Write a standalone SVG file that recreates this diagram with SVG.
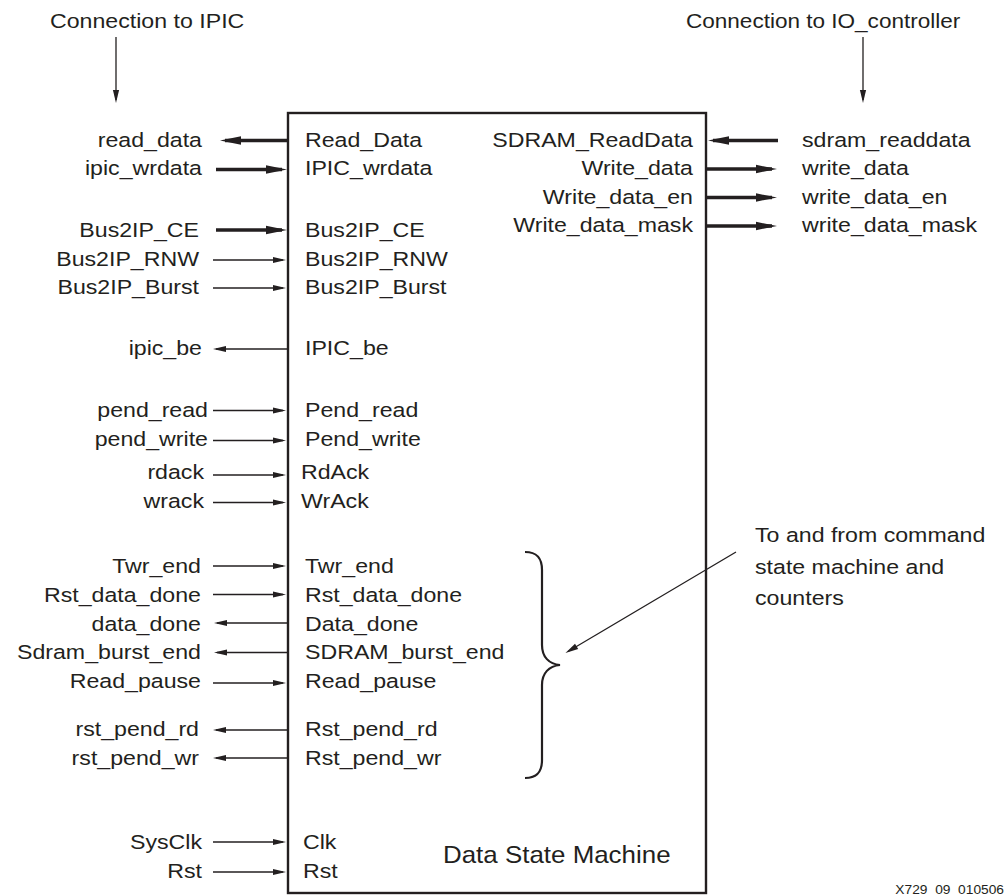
<svg xmlns="http://www.w3.org/2000/svg" width="1008" height="895" viewBox="0 0 1008 895">
  <style>
    text { font-family: "Liberation Sans", Arial, Helvetica, sans-serif; font-size: 20.5px; fill: #231f20; }
    .e { text-anchor: end; }
    .title { font-size: 24px; }
    .tag { font-size: 13px; }
    .thin { stroke: #231f20; stroke-width: 1.3; fill: none; marker-end: url(#ah); }
    .bus { stroke: #231f20; stroke-width: 3.4; fill: none; marker-end: url(#ahb); }
    .box { fill: #ffffff; stroke: #231f20; stroke-width: 2.4; }
    .brace { fill: none; stroke: #231f20; stroke-width: 2.2; }
  </style>
  <defs>
    <marker id="ah" markerUnits="userSpaceOnUse" markerWidth="14" markerHeight="8" refX="10" refY="3.5" orient="auto" overflow="visible">
      <path d="M0,0.4 L13,3.5 L0,6.6 Z" fill="#231f20"/>
    </marker>
    <marker id="ahb" markerUnits="userSpaceOnUse" markerWidth="22" markerHeight="10" refX="16" refY="4.5" orient="auto" overflow="visible">
      <path d="M0,0.3 L21,4.5 L0,8.7 Z" fill="#231f20"/>
    </marker>
  </defs>

  <rect width="1008" height="895" fill="#ffffff"/>

  <!-- Headers above each side -->
  <g id="headers">
    <text transform="translate(50,28) scale(1.13,1)">Connection to IPIC</text>
    <text transform="translate(686,28) scale(1.1,1)">Connection to IO_controller</text>
  </g>

  <!-- Main block with its port names -->
  <g id="data-state-machine">
    <rect class="box" x="288" y="113" width="418" height="780"/>
    <g transform="translate(305,0)">
      <text transform="translate(0,146.5) scale(1.13,1)">Read_Data</text>
      <text transform="translate(0,175) scale(1.13,1)">IPIC_wrdata</text>
      <text transform="translate(0,236.5) scale(1.13,1)">Bus2IP_CE</text>
      <text transform="translate(0,266) scale(1.13,1)">Bus2IP_RNW</text>
      <text transform="translate(0,294) scale(1.13,1)">Bus2IP_Burst</text>
      <text transform="translate(0,355) scale(1.13,1)">IPIC_be</text>
      <text transform="translate(0,417) scale(1.13,1)">Pend_read</text>
      <text transform="translate(0,446) scale(1.13,1)">Pend_write</text>
      <text transform="translate(-4,479) scale(1.13,1)">RdAck</text>
      <text transform="translate(-4,508) scale(1.13,1)">WrAck</text>
      <text transform="translate(0,573) scale(1.13,1)">Twr_end</text>
      <text transform="translate(0,602) scale(1.13,1)">Rst_data_done</text>
      <text transform="translate(0,630.5) scale(1.13,1)">Data_done</text>
      <text transform="translate(0,659) scale(1.13,1)">SDRAM_burst_end</text>
      <text transform="translate(0,688) scale(1.13,1)">Read_pause</text>
      <text transform="translate(0,736) scale(1.13,1)">Rst_pend_rd</text>
      <text transform="translate(0,765) scale(1.13,1)">Rst_pend_wr</text>
      <text transform="translate(-2,849) scale(1.13,1)">Clk</text>
      <text transform="translate(-2,878) scale(1.13,1)">Rst</text>
    </g>
    <g transform="translate(693,0)">
      <text class="e" transform="translate(0,146.5) scale(1.13,1)">SDRAM_ReadData</text>
      <text class="e" transform="translate(0,175) scale(1.13,1)">Write_data</text>
      <text class="e" transform="translate(0,203.5) scale(1.13,1)">Write_data_en</text>
      <text class="e" transform="translate(0,232) scale(1.13,1)">Write_data_mask</text>
    </g>
    <text class="title" transform="translate(443,862.5) scale(1.08,1)">Data State Machine</text>
  </g>

  <!-- Signals on the IPIC side -->
  <g id="ipic-signals">
    <text class="e" transform="translate(202,146.5) scale(1.13,1)">read_data</text>
    <text class="e" transform="translate(202,175) scale(1.13,1)">ipic_wrdata</text>
    <text class="e" transform="translate(199,236.5) scale(1.13,1)">Bus2IP_CE</text>
    <text class="e" transform="translate(199,266) scale(1.13,1)">Bus2IP_RNW</text>
    <text class="e" transform="translate(199,294) scale(1.13,1)">Bus2IP_Burst</text>
    <text class="e" transform="translate(202,355) scale(1.13,1)">ipic_be</text>
    <text class="e" transform="translate(208,417) scale(1.13,1)">pend_read</text>
    <text class="e" transform="translate(208,446) scale(1.13,1)">pend_write</text>
    <text class="e" transform="translate(204,479) scale(1.13,1)">rdack</text>
    <text class="e" transform="translate(204,508) scale(1.13,1)">wrack</text>
    <text class="e" transform="translate(201,573) scale(1.13,1)">Twr_end</text>
    <text class="e" transform="translate(201,602) scale(1.13,1)">Rst_data_done</text>
    <text class="e" transform="translate(201,630.5) scale(1.13,1)">data_done</text>
    <text class="e" transform="translate(201,659) scale(1.13,1)">Sdram_burst_end</text>
    <text class="e" transform="translate(201,688) scale(1.13,1)">Read_pause</text>
    <text class="e" transform="translate(199,736) scale(1.13,1)">rst_pend_rd</text>
    <text class="e" transform="translate(199,765) scale(1.13,1)">rst_pend_wr</text>
    <text class="e" transform="translate(202,849) scale(1.13,1)">SysClk</text>
    <text class="e" transform="translate(202,878) scale(1.13,1)">Rst</text>
  </g>

  <!-- Signals on the IO_controller side -->
  <g id="io-signals">
    <text transform="translate(802,146.5) scale(1.13,1)">sdram_readdata</text>
    <text transform="translate(802,175) scale(1.13,1)">write_data</text>
    <text transform="translate(802,203.5) scale(1.13,1)">write_data_en</text>
    <text transform="translate(802,232) scale(1.13,1)">write_data_mask</text>
  </g>

  <!-- Connectors: line ends sit 3-4px short of each arrow tip -->
  <g id="connectors">
    <line class="thin" x1="116" y1="37" x2="116" y2="100"/>
    <line class="thin" x1="863" y1="37" x2="863" y2="100"/>

    <line class="bus" x1="288" y1="140.5" x2="225" y2="140.5"/>
    <line class="bus" x1="216" y1="169.5" x2="282" y2="169.5"/>
    <line class="bus" x1="216" y1="230" x2="282" y2="230"/>
    <line class="thin" x1="213" y1="260" x2="283" y2="260"/>
    <line class="thin" x1="213" y1="288" x2="283" y2="288"/>
    <line class="thin" x1="288" y1="349" x2="216" y2="349"/>
    <line class="thin" x1="213" y1="410.5" x2="283" y2="410.5"/>
    <line class="thin" x1="213" y1="440.5" x2="283" y2="440.5"/>
    <line class="thin" x1="213" y1="475" x2="283" y2="475"/>
    <line class="thin" x1="213" y1="502.5" x2="283" y2="502.5"/>
    <line class="thin" x1="213" y1="566" x2="283" y2="566"/>
    <line class="thin" x1="213" y1="594.5" x2="283" y2="594.5"/>
    <line class="thin" x1="288" y1="623" x2="217" y2="623"/>
    <line class="thin" x1="288" y1="652.5" x2="217" y2="652.5"/>
    <line class="thin" x1="213" y1="683" x2="283" y2="683"/>
    <line class="thin" x1="288" y1="730" x2="216" y2="730"/>
    <line class="thin" x1="288" y1="758" x2="216" y2="758"/>
    <line class="thin" x1="213" y1="842" x2="283" y2="842"/>
    <line class="thin" x1="213" y1="872" x2="283" y2="872"/>

    <line class="bus" x1="778" y1="140.5" x2="713" y2="140.5"/>
    <line class="bus" x1="706" y1="169" x2="772" y2="169"/>
    <line class="bus" x1="706" y1="197.5" x2="772" y2="197.5"/>
    <line class="bus" x1="706" y1="226" x2="772" y2="226"/>

    <line class="thin" x1="736" y1="552" x2="568" y2="651.5"/>
  </g>

  <!-- Brace grouping the command state machine signals -->
  <g id="note">
    <path class="brace" d="M525,552 C537,552 542,558 542,570 L542,645 C542,657 549,664 560,665 C549,666 542,673 542,685 L542,760 C542,772 537,778 525,778"/>
    <text transform="translate(755,542) scale(1.13,1)">To and from command</text>
    <text transform="translate(755,573.5) scale(1.13,1)">state machine and</text>
    <text transform="translate(755,605) scale(1.13,1)">counters</text>
  </g>

  <text class="tag e" transform="translate(1004,893.5) scale(1.06,1)">X729_09_010506</text>
</svg>
